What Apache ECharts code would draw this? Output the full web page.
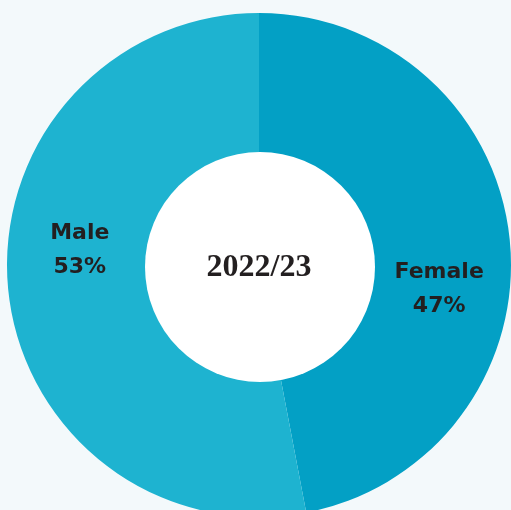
<!DOCTYPE html>
<html lang="en">
<head>
    <meta charset="UTF-8">
    <title>Gender split 2022/23</title>
    <script src="https://cdn.jsdelivr.net/npm/echarts@6/dist/echarts.min.js"></script>
    <style>
        html, body { margin: 0; padding: 0; background: #f3f9fb; }
        #pie_show { width: 511px; height: 510px; }
    </style>
</head>
<body>
    <div id="pie_show"></div>
    <script>
        // data
        var categories = ['Female', 'Male'];
        var shares = [47, 53];
        var colors = ['#03a0c5', '#1eb3d0'];
        var yearLabel = '2022/23';

        // label nudges so text sits like the original
        var labelOffsets = [[-3, 42], [4, -32]];

        var pieData = [];
        for (var i = 0; i < categories.length; i++) {
            pieData.push({
                name: categories[i],
                value: shares[i],
                itemStyle: { color: colors[i] },
                label: { offset: labelOffsets[i] }
            });
        }

        var myChart = echarts.init(document.getElementById('pie_show'));
        var option = {
            backgroundColor: '#f3f9fb',
            animation: false,
            graphic: [{
                // white hole in the middle
                type: 'circle',
                shape: { cx: 260, cy: 267, r: 115 },
                style: { fill: '#ffffff' },
                z: 5
            }, {
                type: 'text',
                x: 259,
                y: 268,
                style: {
                    text: yearLabel,
                    fill: '#231f20',
                    font: 'bold 32px "Liberation Serif", serif',
                    align: 'center',
                    verticalAlign: 'middle'
                },
                z: 10
            }],
            series: [{
                name: 'Gender',
                type: 'pie',
                center: [259, 265],
                radius: [110, 252],
                startAngle: 90,
                clockwise: true,
                avoidLabelOverlap: false,
                itemStyle: { borderWidth: 0 },
                label: {
                    show: true,
                    position: 'inside',
                    formatter: '{b}\n{c}%',
                    color: '#231f20',
                    fontFamily: 'DejaVu Sans',
                    fontWeight: 'bold',
                    fontSize: 22,
                    lineHeight: 34
                },
                labelLine: { show: false },
                emphasis: { disabled: true },
                data: pieData
            }]
        };
        myChart.setOption(option);
    </script>
</body>
</html>
